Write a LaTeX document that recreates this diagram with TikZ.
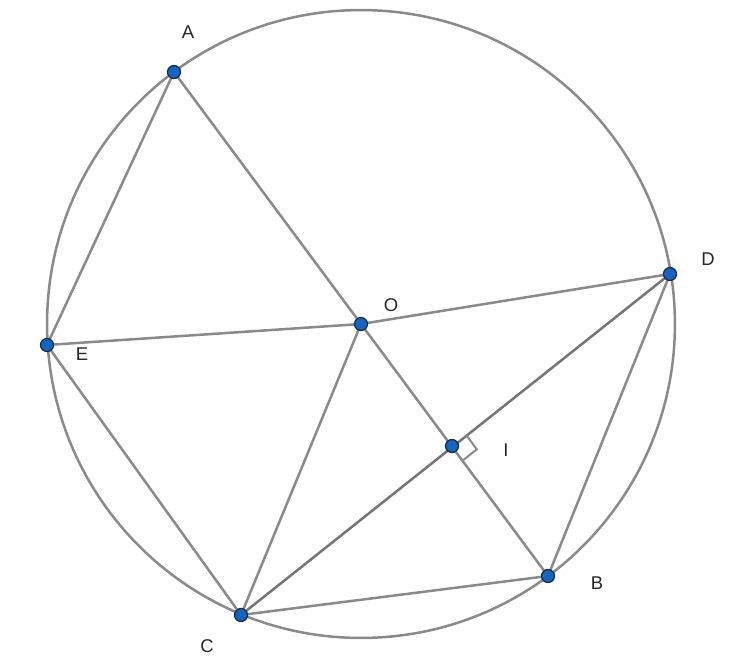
\documentclass[tikz,border=0pt]{standalone}
\usepackage{fontspec}
\setmainfont{Liberation Sans}
\usetikzlibrary{calc}
\usetikzlibrary{math}

\definecolor{segcol}{HTML}{8A8A8A}
\definecolor{ptfill}{HTML}{1565C0}
\definecolor{ptdraw}{HTML}{1A2A40}

\begin{document}
\begin{tikzpicture}[x=0.02cm,y=-0.02cm,line width=0.6mm]

  \tikzmath{
    \radius    = 6.28; % radius of circle (cm)
    \dotradius = 0.13; % radius of the points (cm)
    \marksize  = 0.36; % size of right angle mark (cm)
  }

  \useasboundingbox (0,0) rectangle (755,667);

  % Points of the figure
  \coordinate (O) at (361,324);
  \coordinate (A) at (174,72);
  \coordinate (D) at (670,274);
  \coordinate (E) at (47,345);
  \coordinate (C) at (241,615);
  \coordinate (B) at (548,576);
  \coordinate (I) at (452,446);

  % Circle
  \draw[segcol, line width=0.5mm] (O) circle [radius=\radius cm];

  % Segments
  \begin{scope}[segcol, line width=0.5mm]
    \draw (A) -- (O);
    \draw (A) -- (E);
    \draw (E) -- (O) -- (D);
    \draw (E) -- (C);
    \draw (O) -- (C);
    \draw (O) -- (B);
    \draw[segcol!85!black] (C) -- (D);
    \draw (C) -- (B) -- (D);
  \end{scope}

  % Right angle at I
  \coordinate (Id) at ($ (I)!\marksize cm!(D) $);
  \coordinate (Ib) at ($ (I)!\marksize cm!(B) $);
  \draw[segcol, line width=0.4mm] (Id) -- ($ (Id) + (Ib) - (I) $) -- (Ib);

  % Points
  \foreach \p in {O,A,D,E,C,B,I}
    \draw[ptdraw, fill=ptfill, line width=0.25mm] (\p) circle [radius=\dotradius cm];

  % Labels
  \begin{scope}[font=\fontsize{10.5}{12}\selectfont, text=black!85]
    \node (lA) at (188,32) {A};
    \node (lO) at (391,305) {O};
    \node (lD) at (708,259) {D};
    \node (lE) at (82,354) {E};
    \node (lI) at (506,450) {I};
    \node (lB) at (597,583) {B};
    \node (lC) at (207,646) {C};
  \end{scope}

\end{tikzpicture}
\end{document}
